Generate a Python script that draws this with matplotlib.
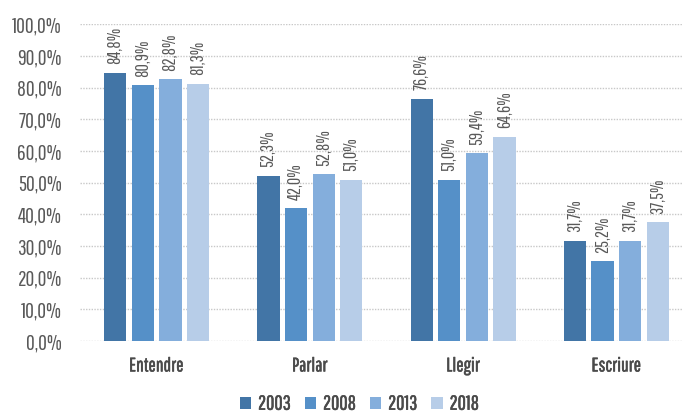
import numpy as np
import matplotlib.pyplot as plt
import matplotlib.patheffects as pe
from matplotlib.ticker import FuncFormatter

# dades
categories = ['Entendre', 'Parlar', 'Llegir', 'Escriure']
anys = ['2003', '2008', '2013', '2018']
v2003 = [84.8, 52.3, 76.6, 31.7]
v2008 = [80.9, 42.0, 51.0, 25.2]
v2013 = [82.8, 52.8, 59.4, 31.7]
v2018 = [81.3, 51.0, 64.6, 37.5]

colors = ['#4275a6', '#5590c8', '#84aedc', '#b7cde8']
series = [v2003, v2008, v2013, v2018]

plt.rcParams['font.family'] = ['Pathway Gothic One', 'DejaVu Sans']
gris = '#595959'
negreta = [pe.withStroke(linewidth=0.4, foreground='#4a4a4a')]

fig = plt.figure(figsize=(6.82, 4.15), dpi=100)
ax = fig.add_axes([80 / 682, 0.178, 613 / 682, 0.763])

x = np.arange(len(categories))
pas = 0.18
amplada = 0.145
for i, (vals, col, any_) in enumerate(zip(series, colors, anys)):
    pos = x + (i - 1.5) * pas
    ax.bar(pos, vals, amplada, color=col, label=any_, zorder=3)
    for p, v in zip(pos, vals):
        ax.annotate(f'{v:.1f}%'.replace('.', ','), (p, v), xytext=(0, 6),
                    textcoords='offset points', rotation=90, ha='center',
                    va='bottom', fontsize=13, color=gris)

ax.set_xlim(-0.5, 3.5)
ax.set_ylim(0, 100)
ax.set_yticks(np.arange(0, 101, 10))
ax.yaxis.set_major_formatter(FuncFormatter(lambda v, _: f'{v:.1f}%'.replace('.', ',')))
ax.set_xticks(x)
ax.set_xticklabels(categories, fontsize=14, color='#4a4a4a')
for t in ax.get_xticklabels():
    t.set_path_effects(negreta)
ax.tick_params(axis='y', labelsize=15.5, colors=gris, length=0, pad=13)
ax.tick_params(axis='x', length=0, pad=11)
ax.grid(axis='y', color='#c8c8c8', linestyle=(0, (1, 1)), linewidth=1, zorder=0)
for s in ax.spines.values():
    s.set_visible(False)

leg = fig.legend(loc='center', bbox_to_anchor=(0.527, 0.026), ncol=4,
                 frameon=False, fontsize=14.5, handlelength=0.55, handleheight=0.55,
                 handletextpad=0.35, columnspacing=0.7)
for t in leg.get_texts():
    t.set_color('#4a4a4a')
    t.set_path_effects(negreta)

fig.savefig('out.png', dpi=100)
